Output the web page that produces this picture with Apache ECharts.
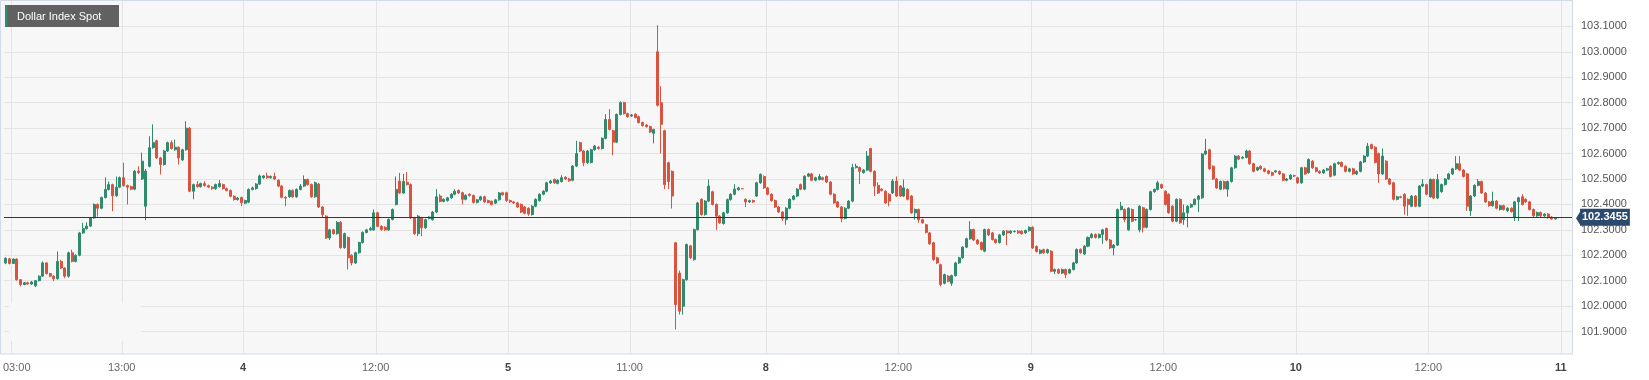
<!DOCTYPE html>
<html><head><meta charset="utf-8">
<script src="https://cdn.jsdelivr.net/npm/echarts@6/dist/echarts.min.js"></script>
<style>html,body{margin:0;padding:0;background:#fff;}#c{width:1649px;height:380px;}</style>
</head><body><div id="c"></div>
<script>
const titleText = 'Dollar Index Spot';
const lastPrice = 102.3455;
// trading sessions (day, first 20-min slot, last slot)
const sessions = [['3','02:20','23:40'],['4','00:00','23:40'],['5','00:00','23:00'],['8','00:00','23:40'],['9','00:00','23:40'],['10','00:00','23:40'],['11','00:00','00:40']];
// x tick labels: [category, text]
const xTicks = [['3 03:00','03:00'],['3 13:00','13:00'],['4 00:00','4'],['4 12:00','12:00'],['5 00:00','5'],['5 11:00','11:00'],['8 00:00','8'],['8 12:00','12:00'],['9 00:00','9'],['9 12:00','12:00'],['10 00:00','10'],['10 12:00','12:00'],['11 00:00','11']];
const yMin = 101.8, yMax = 103.2, yStep = 0.1;

// candles [open, close, low, high], 20-minute bars
const day3 = [
[102.170,102.188,102.165,102.192],[102.186,102.168,102.164,102.190],[102.168,102.185,102.166,102.188],[102.185,102.104,102.100,102.188],
[102.104,102.085,102.078,102.106],[102.085,102.092,102.082,102.095],[102.092,102.087,102.084,102.096],[102.087,102.095,102.083,102.099],
[102.080,102.100,102.075,102.103],[102.100,102.118,102.097,102.121],[102.118,102.170,102.115,102.176],[102.170,102.128,102.124,102.173],
[102.128,102.118,102.114,102.131],[102.118,102.108,102.098,102.121],[102.108,102.176,102.104,102.215],[102.176,102.150,102.146,102.182],
[102.150,102.118,102.110,102.153],[102.118,102.210,102.112,102.214],[102.210,102.176,102.172,102.222],[102.176,102.200,102.172,102.204],
[102.200,102.288,102.196,102.292],[102.288,102.305,102.284,102.328],[102.305,102.315,102.300,102.330],[102.315,102.347,102.311,102.350],
[102.347,102.400,102.344,102.404],[102.400,102.385,102.352,102.404],[102.385,102.427,102.381,102.431],[102.427,102.459,102.423,102.506],
[102.459,102.478,102.455,102.490],[102.478,102.434,102.373,102.482],[102.434,102.468,102.430,102.510],[102.468,102.505,102.464,102.510],
[102.505,102.474,102.470,102.564],[102.474,102.468,102.400,102.478],[102.470,102.460,102.456,102.474],[102.460,102.531,102.456,102.535],
[102.531,102.525,102.520,102.550],[102.500,102.570,102.496,102.604],[102.393,102.531,102.338,102.540],[102.550,102.623,102.546,102.668],
[102.623,102.643,102.619,102.715],[102.650,102.583,102.579,102.655],[102.583,102.557,102.518,102.587],[102.557,102.610,102.553,102.614],
[102.610,102.643,102.606,102.647],[102.643,102.620,102.616,102.652],[102.615,102.625,102.611,102.655],[102.625,102.583,102.557,102.628],
[102.575,102.615,102.571,102.619],[102.615,102.700,102.611,102.727],[102.700,102.452,102.448,102.704],[102.452,102.478,102.420,102.482],
[102.478,102.470,102.466,102.492],[102.470,102.482,102.466,102.486],[102.482,102.474,102.470,102.491],[102.474,102.468,102.464,102.478],
[102.468,102.462,102.458,102.472],[102.462,102.478,102.458,102.482],[102.470,102.482,102.466,102.496],[102.478,102.462,102.458,102.482],
[102.462,102.455,102.451,102.466],[102.455,102.432,102.428,102.459],[102.432,102.419,102.415,102.436],[102.419,102.425,102.415,102.429],
[102.427,102.407,102.393,102.431]
];
const day4 = [
[102.405,102.415,102.401,102.419],[102.409,102.459,102.405,102.463],[102.459,102.465,102.455,102.470],[102.462,102.480,102.458,102.484],
[102.480,102.512,102.476,102.518],[102.505,102.512,102.501,102.516],[102.512,102.505,102.501,102.525],[102.505,102.510,102.501,102.514],
[102.510,102.500,102.496,102.525],[102.495,102.472,102.468,102.499],[102.472,102.428,102.424,102.476],[102.428,102.425,102.393,102.432],
[102.430,102.455,102.426,102.459],[102.455,102.430,102.426,102.459],[102.430,102.459,102.426,102.463],[102.459,102.472,102.455,102.480],
[102.472,102.498,102.468,102.514],[102.498,102.478,102.474,102.502],[102.478,102.430,102.426,102.482],[102.430,102.485,102.426,102.490],
[102.480,102.390,102.386,102.484],[102.390,102.360,102.350,102.394],[102.354,102.268,102.264,102.358],[102.268,102.300,102.260,102.304],
[102.300,102.285,102.281,102.304],[102.285,102.330,102.281,102.334],[102.330,102.230,102.226,102.334],[102.230,102.285,102.226,102.289],
[102.270,102.190,102.144,102.274],[102.200,102.170,102.160,102.204],[102.170,102.210,102.166,102.214],[102.210,102.250,102.206,102.254],
[102.250,102.290,102.246,102.294],[102.290,102.300,102.286,102.304],[102.300,102.305,102.296,102.312],[102.300,102.367,102.296,102.380],
[102.367,102.314,102.310,102.371],[102.314,102.301,102.297,102.318],[102.310,102.300,102.296,102.314],[102.300,102.341,102.296,102.345],
[102.341,102.380,102.337,102.384],[102.400,102.459,102.396,102.510],[102.492,102.445,102.441,102.524],[102.445,102.490,102.441,102.520],
[102.487,102.478,102.474,102.527],[102.478,102.347,102.343,102.482],[102.347,102.285,102.280,102.351],[102.285,102.354,102.275,102.358],
[102.347,102.308,102.275,102.351],[102.308,102.340,102.304,102.344],[102.345,102.350,102.341,102.354],[102.340,102.370,102.336,102.374],
[102.370,102.430,102.366,102.460],[102.433,102.412,102.408,102.440],[102.412,102.420,102.408,102.424],[102.415,102.426,102.411,102.430],
[102.426,102.440,102.422,102.444],[102.440,102.452,102.436,102.460],[102.455,102.445,102.441,102.459],[102.446,102.420,102.400,102.450],
[102.420,102.436,102.416,102.440],[102.440,102.435,102.431,102.444],[102.435,102.408,102.404,102.439],[102.408,102.418,102.404,102.422],
[102.418,102.430,102.414,102.434],[102.430,102.410,102.406,102.434],[102.415,102.408,102.404,102.419],[102.412,102.400,102.396,102.416],
[102.405,102.418,102.401,102.422],[102.418,102.445,102.414,102.449],[102.446,102.438,102.434,102.450],[102.446,102.415,102.410,102.450]
];
const day5 = [
[102.415,102.410,102.406,102.419],[102.410,102.406,102.402,102.414],[102.406,102.390,102.386,102.410],[102.400,102.370,102.366,102.404],
[102.390,102.365,102.361,102.394],[102.385,102.362,102.355,102.389],[102.360,102.393,102.356,102.397],[102.393,102.420,102.389,102.424],
[102.415,102.440,102.411,102.444],[102.440,102.452,102.436,102.456],[102.452,102.485,102.448,102.489],[102.485,102.492,102.481,102.496],
[102.498,102.485,102.481,102.502],[102.483,102.495,102.479,102.499],[102.490,102.505,102.486,102.515],[102.507,102.500,102.496,102.511],
[102.500,102.493,102.489,102.504],[102.495,102.551,102.491,102.555],[102.551,102.600,102.547,102.650],[102.643,102.610,102.606,102.647],
[102.610,102.564,102.550,102.614],[102.564,102.610,102.560,102.614],[102.565,102.615,102.561,102.619],[102.615,102.630,102.611,102.634],
[102.625,102.620,102.616,102.629],[102.620,102.660,102.616,102.664],[102.660,102.734,102.656,102.755],[102.734,102.695,102.691,102.775],
[102.690,102.645,102.593,102.694],[102.645,102.754,102.641,102.758],[102.754,102.800,102.750,102.806],[102.800,102.757,102.753,102.804],
[102.757,102.745,102.741,102.761],[102.748,102.752,102.744,102.756],[102.755,102.742,102.738,102.759],[102.745,102.722,102.718,102.749],
[102.722,102.710,102.706,102.726],[102.712,102.706,102.702,102.716],[102.706,102.685,102.681,102.710],[102.680,102.694,102.640,102.698],
[103.000,102.790,102.785,103.105],[102.800,102.715,102.600,102.865],[102.690,102.478,102.460,102.694],[102.564,102.490,102.460,102.568],
[102.530,102.433,102.384,102.534],[102.249,102.006,101.908,102.253],[102.130,101.980,101.967,102.140],[102.000,102.104,101.967,102.108],
[102.104,102.242,102.100,102.246],[102.237,102.190,102.186,102.241],[102.183,102.301,102.179,102.305],[102.301,102.406,102.297,102.410],
[102.420,102.360,102.356,102.424],[102.360,102.413,102.356,102.417],[102.413,102.472,102.409,102.498],[102.450,102.400,102.396,102.454],
[102.400,102.354,102.300,102.404],[102.354,102.328,102.324,102.358],[102.325,102.367,102.321,102.371],[102.367,102.419,102.363,102.423],
[102.419,102.440,102.415,102.444],[102.440,102.460,102.436,102.480],[102.458,102.465,102.454,102.469],[102.462,102.462,102.460,102.464],
[102.420,102.410,102.390,102.424],[102.410,102.415,102.406,102.419],[102.415,102.410,102.406,102.419],[102.433,102.485,102.429,102.489],
[102.485,102.518,102.481,102.522],[102.510,102.465,102.461,102.514]
];
const day8 = [
[102.465,102.440,102.436,102.469],[102.440,102.415,102.411,102.444],[102.415,102.390,102.386,102.419],[102.390,102.370,102.366,102.394],
[102.370,102.345,102.335,102.374],[102.340,102.385,102.320,102.389],[102.385,102.420,102.381,102.424],[102.420,102.433,102.416,102.437],
[102.433,102.460,102.429,102.464],[102.478,102.460,102.456,102.482],[102.460,102.511,102.456,102.515],[102.511,102.520,102.507,102.524],
[102.520,102.495,102.491,102.524],[102.495,102.505,102.491,102.509],[102.498,102.510,102.494,102.520],[102.505,102.498,102.494,102.509],
[102.510,102.488,102.484,102.514],[102.488,102.440,102.436,102.492],[102.440,102.406,102.402,102.444],[102.410,102.390,102.386,102.414],
[102.390,102.345,102.330,102.394],[102.345,102.385,102.341,102.389],[102.385,102.413,102.381,102.417],[102.413,102.545,102.409,102.560],
[102.545,102.550,102.541,102.560],[102.545,102.530,102.480,102.549],[102.525,102.535,102.521,102.539],[102.535,102.590,102.531,102.610],
[102.620,102.530,102.526,102.623],[102.530,102.472,102.433,102.534],[102.475,102.445,102.441,102.487],[102.460,102.455,102.451,102.464],
[102.452,102.406,102.402,102.456],[102.440,102.413,102.393,102.444],[102.445,102.492,102.441,102.500],[102.492,102.433,102.429,102.510],
[102.472,102.433,102.429,102.476],[102.433,102.465,102.429,102.498],[102.459,102.420,102.416,102.463],[102.433,102.367,102.363,102.437],
[102.367,102.380,102.340,102.384],[102.380,102.340,102.328,102.384],[102.340,102.328,102.324,102.344],[102.320,102.290,102.286,102.324],
[102.288,102.245,102.241,102.292],[102.249,102.183,102.179,102.253],[102.190,102.170,102.166,102.194],[102.163,102.085,102.078,102.167],
[102.090,102.124,102.086,102.128],[102.118,102.098,102.094,102.122],[102.090,102.120,102.080,102.124],[102.120,102.170,102.116,102.174],
[102.170,102.190,102.166,102.194],[102.190,102.232,102.186,102.236],[102.232,102.265,102.228,102.269],[102.265,102.301,102.261,102.334],
[102.301,102.260,102.256,102.305],[102.260,102.245,102.241,102.264],[102.250,102.223,102.219,102.254],[102.216,102.301,102.212,102.305],
[102.301,102.280,102.276,102.305],[102.288,102.262,102.258,102.292],[102.262,102.250,102.246,102.266],[102.250,102.280,102.246,102.284],
[102.280,102.295,102.276,102.299],[102.295,102.288,102.240,102.299],[102.288,102.295,102.284,102.299],[102.293,102.294,102.290,102.298],
[102.295,102.288,102.284,102.299],[102.295,102.285,102.281,102.299],[102.288,102.297,102.284,102.301],[102.297,102.310,102.293,102.314]
];
const day9 = [
[102.310,102.229,102.225,102.314],[102.235,102.215,102.211,102.239],[102.208,102.220,102.204,102.224],[102.222,102.210,102.206,102.226],
[102.210,102.222,102.206,102.226],[102.216,102.137,102.133,102.220],[102.137,102.144,102.126,102.148],[102.144,102.130,102.126,102.148],
[102.130,102.144,102.126,102.148],[102.144,102.124,102.110,102.148],[102.130,102.144,102.126,102.148],[102.144,102.170,102.140,102.174],
[102.170,102.223,102.166,102.227],[102.223,102.210,102.206,102.227],[102.205,102.236,102.201,102.240],[102.236,102.270,102.232,102.274],
[102.270,102.282,102.266,102.288],[102.282,102.270,102.266,102.286],[102.270,102.282,102.266,102.286],[102.282,102.300,102.245,102.304],
[102.305,102.260,102.256,102.309],[102.260,102.229,102.225,102.264],[102.229,102.240,102.200,102.244],[102.240,102.380,102.236,102.384],
[102.380,102.393,102.376,102.410],[102.380,102.341,102.330,102.384],[102.300,102.385,102.296,102.389],[102.380,102.334,102.330,102.384],
[102.340,102.340,102.336,102.344],[102.300,102.393,102.290,102.397],[102.387,102.310,102.290,102.391],[102.310,102.380,102.306,102.384],
[102.380,102.450,102.376,102.454],[102.450,102.459,102.446,102.463],[102.459,102.485,102.455,102.493],[102.478,102.465,102.461,102.482],
[102.452,102.400,102.396,102.456],[102.440,102.367,102.363,102.444],[102.393,102.334,102.330,102.397],[102.334,102.420,102.330,102.424],
[102.420,102.328,102.324,102.424],[102.340,102.367,102.320,102.400],[102.367,102.393,102.310,102.397],[102.390,102.400,102.386,102.404],
[102.400,102.420,102.396,102.424],[102.420,102.433,102.370,102.437],[102.426,102.598,102.422,102.602],[102.598,102.610,102.594,102.658],
[102.615,102.540,102.536,102.619],[102.550,102.500,102.496,102.554],[102.500,102.465,102.461,102.504],[102.460,102.490,102.456,102.494],
[102.490,102.462,102.458,102.494],[102.460,102.490,102.430,102.494],[102.490,102.544,102.486,102.548],[102.544,102.590,102.540,102.594],
[102.590,102.578,102.574,102.594],[102.582,102.585,102.578,102.590],[102.585,102.610,102.581,102.615],[102.610,102.560,102.556,102.614],
[102.560,102.530,102.526,102.564],[102.535,102.545,102.531,102.549],[102.550,102.540,102.536,102.554],[102.540,102.530,102.526,102.544],
[102.532,102.522,102.518,102.536],[102.525,102.515,102.511,102.529],[102.528,102.532,102.524,102.536],[102.530,102.520,102.516,102.534],
[102.520,102.495,102.491,102.524],[102.495,102.500,102.491,102.504],[102.500,102.515,102.496,102.519],[102.513,102.512,102.508,102.517]
];
const day10 = [
[102.505,102.485,102.481,102.509],[102.485,102.544,102.481,102.548],[102.544,102.520,102.516,102.548],[102.525,102.577,102.521,102.581],
[102.570,102.544,102.540,102.574],[102.544,102.530,102.526,102.548],[102.530,102.524,102.520,102.534],[102.524,102.535,102.520,102.539],
[102.535,102.540,102.531,102.544],[102.550,102.510,102.506,102.554],[102.515,102.560,102.511,102.564],[102.560,102.565,102.556,102.569],
[102.565,102.550,102.546,102.569],[102.550,102.530,102.526,102.554],[102.530,102.540,102.526,102.544],[102.540,102.520,102.516,102.544],
[102.520,102.530,102.516,102.534],[102.530,102.567,102.526,102.571],[102.567,102.590,102.563,102.594],[102.590,102.629,102.586,102.642],
[102.635,102.620,102.616,102.639],[102.625,102.565,102.561,102.629],[102.600,102.520,102.485,102.604],[102.520,102.590,102.516,102.620],
[102.570,102.500,102.496,102.574],[102.500,102.480,102.476,102.504],[102.485,102.420,102.416,102.489],[102.420,102.430,102.416,102.434],
[102.430,102.428,102.424,102.434],[102.440,102.393,102.360,102.444],[102.420,102.400,102.355,102.424],[102.393,102.433,102.389,102.437],
[102.433,102.393,102.389,102.437],[102.393,102.472,102.389,102.476],[102.472,102.480,102.468,102.500],[102.478,102.440,102.436,102.482],
[102.430,102.498,102.426,102.502],[102.498,102.425,102.421,102.502],[102.425,102.498,102.421,102.520],[102.450,102.478,102.446,102.482],
[102.478,102.500,102.474,102.504],[102.500,102.520,102.496,102.524],[102.520,102.540,102.516,102.544],[102.540,102.560,102.536,102.590],
[102.560,102.535,102.531,102.590],[102.535,102.510,102.506,102.539],[102.520,102.393,102.375,102.524],[102.375,102.433,102.355,102.437],
[102.433,102.475,102.429,102.479],[102.475,102.490,102.471,102.500],[102.490,102.445,102.441,102.494],[102.445,102.410,102.406,102.449],
[102.410,102.395,102.391,102.414],[102.395,102.413,102.391,102.450],[102.413,102.385,102.381,102.417],[102.380,102.395,102.376,102.399],
[102.395,102.380,102.376,102.399],[102.375,102.385,102.371,102.389],[102.385,102.372,102.368,102.389],[102.350,102.410,102.335,102.414],
[102.410,102.426,102.335,102.430],[102.430,102.400,102.396,102.440],[102.420,102.410,102.406,102.424],[102.410,102.380,102.376,102.414],
[102.380,102.355,102.351,102.384],[102.355,102.368,102.351,102.372],[102.368,102.355,102.351,102.372],[102.355,102.362,102.351,102.366],
[102.362,102.348,102.344,102.366],[102.350,102.343,102.340,102.354],[102.343,102.3455,102.340,102.349]
];

// build category axis (20-minute slots)
function toMin(t){const p=t.split(':');return (+p[0])*60+(+p[1]);}
const categories = [];
sessions.forEach(([d,a,b])=>{
  for(let m=toMin(a);m<=toMin(b);m+=20){
    const hh=String(Math.floor(m/60)).padStart(2,'0'), mm=String(m%60).padStart(2,'0');
    categories.push(d+' '+hh+':'+mm);
  }
});
const ohlc = [].concat(day3, day4, day5, day8, day9, day10);
const tickMap = new Map(xTicks);
const isTick = (idx, val) => tickMap.has(val);

const FONT = '"Liberation Sans", Arial, Helvetica, sans-serif';
const chart = echarts.init(document.getElementById('c'), null, {renderer:'canvas'});
const GRID = {left:1, right:77, top:1, bottom:23};
chart.setOption({
  animation:false,
  backgroundColor:'#ffffff',
  textStyle:{fontFamily:FONT},
  grid:{left:GRID.left, right:GRID.right, top:GRID.top, bottom:GRID.bottom, containLabel:false},
  xAxis:{
    type:'category', data:categories, boundaryGap:true,
    axisLine:{show:false}, axisTick:{show:false},
    splitLine:{show:false},
    axisLabel:{
      show:true, interval:isTick, margin:5, fontSize:11, color:'#666', fontFamily:FONT,
      formatter:(v)=>{const t=tickMap.get(v); if(t===undefined) return '';
        if(v===xTicks[0][0]) return '{f|'+t+'}';
        return t.indexOf(':')<0 ? '{d|'+t+'}' : '{t|'+t+'}';},
      rich:{
        t:{color:'#666', fontSize:11, fontFamily:FONT, padding:[0,4,0,0]},
        f:{color:'#666', fontSize:11, fontFamily:FONT, padding:[0,0,0,7]},
        d:{color:'#444', fontSize:11, fontWeight:'bold', fontFamily:FONT, padding:[0,4,0,0]}
      }
    }
  },
  yAxis:{
    type:'value', position:'right', min:yMin, max:yMax, interval:yStep, scale:false,
    axisLine:{show:false}, axisTick:{show:false},
    splitLine:{show:true, showMinLine:false, showMaxLine:false, lineStyle:{color:'#e4e4e4', width:1}},
    axisLabel:{show:true, margin:9, fontSize:11, color:'#555', fontFamily:FONT, showMinLabel:false, showMaxLabel:false,
      formatter:(v)=>v.toFixed(4)}
  },
  series:[{
    type:'candlestick', data:ohlc, barWidth:'68%',
    itemStyle:{color:'#2e8b6e', color0:'#d9533f', borderColor:'#2e8b6e', borderColor0:'#d9533f', borderWidth:1},
    emphasis:{disabled:true},
    markLine:{
      silent:true, symbol:['none','none'], animation:false,
      lineStyle:{color:'#1f3a5c', width:1, type:'solid'},
      emphasis:{disabled:true},
      label:{show:true, position:'end', distance:8, formatter:()=>lastPrice.toFixed(4),
        color:'#fff', backgroundColor:'#2b4a6e', fontWeight:'bold', fontSize:11, fontFamily:FONT,
        padding:[3,2,2,2], lineHeight:12},
      data:[{yAxis:lastPrice}]
    }
  }]
});

const W = chart.getWidth();
const px = chart.convertToPixel({yAxisIndex:0}, lastPrice);
const bottomPx = chart.convertToPixel({yAxisIndex:0}, 101.9) + 22.5;
const rightX = W - GRID.right;
const band = chart.convertToPixel({xAxisIndex:0}, categories[1]) - chart.convertToPixel({xAxisIndex:0}, categories[0]);
const vLines = xTicks.map(([cat], k) => {
  const x = Math.round(chart.convertToPixel({xAxisIndex:0}, cat) - band/2) + 0.5;
  return {type:'line', id:'vl'+k, z:-5, silent:true, shape:{x1:x, y1:1, x2:x, y2:bottomPx}, style:{stroke:'#e4e4e4', lineWidth:1}};
});
chart.setOption({
  graphic:[
    {type:'rect', id:'bg', z:-10, silent:true, shape:{x:0.5, y:0.5, width:rightX, height:bottomPx-0.5}, style:{fill:'#f7f7f7', stroke:null}},
    ...vLines,
    {type:'rect', id:'cover', z:1, silent:true, shape:{x:9, y:303, width:132, height:38}, style:{fill:'#f7f7f7'}},
    {type:'rect', id:'border', z:10, silent:true, shape:{x:0.5, y:0.5, width:rightX, height:bottomPx-0.5}, style:{fill:null, stroke:'#d3dae8', lineWidth:1}},
    {type:'polygon', id:'arrow', z:20, silent:true, shape:{points:[[rightX+4, px],[rightX+9, px-8],[rightX+9, px+8]]}, style:{fill:'#2b4a6e'}},
    {type:'rect', id:'tbox', z:20, silent:true, shape:{x:5, y:5, width:114, height:22}, style:{fill:'#616161'}},
    {type:'rect', id:'tstrip', z:21, silent:true, shape:{x:5, y:5, width:2.5, height:22}, style:{fill:'#2e8b6e'}},
    {type:'text', id:'ttext', z:22, silent:true, style:{x:17, y:16.5, text:titleText, fill:'#ffffff', fontSize:11, fontFamily:FONT, verticalAlign:'middle', align:'left'}}
  ]
});
</script>
</body></html>
